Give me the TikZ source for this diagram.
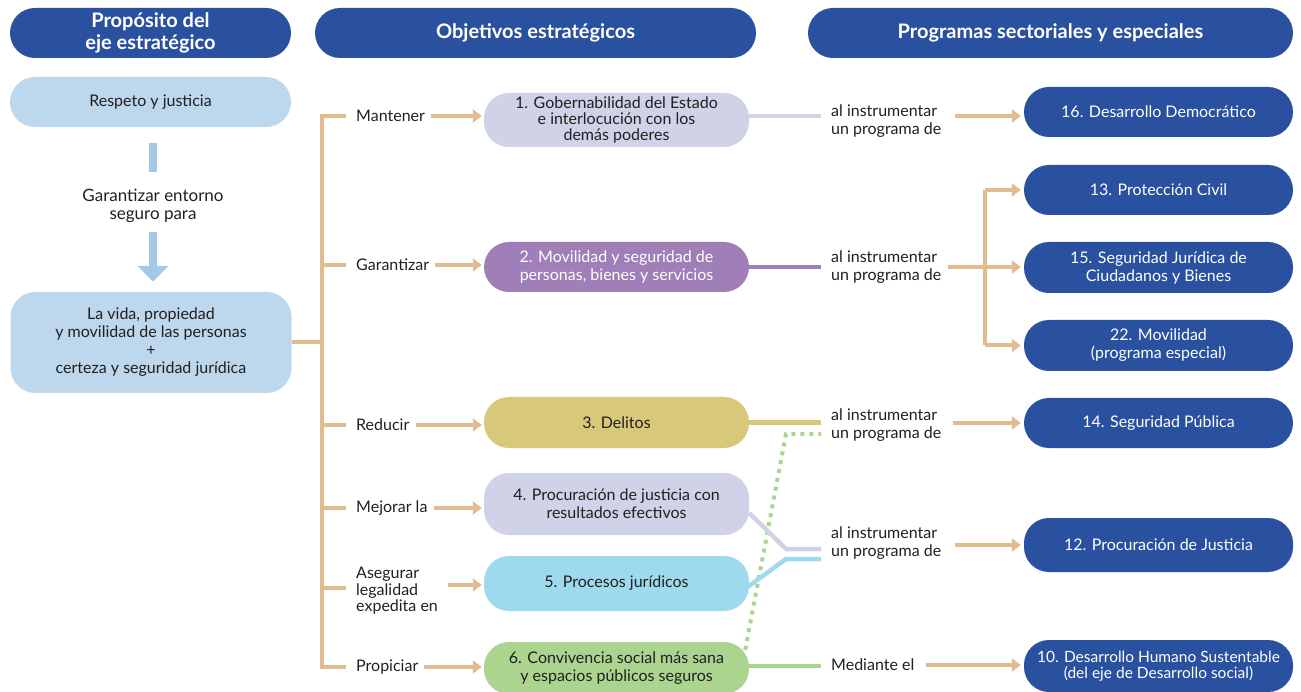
\documentclass[tikz,border=0pt]{standalone}
\usepackage{fontspec}
\setmainfont{Lato}
\usetikzlibrary{arrows.meta,calc}
\definecolor{dblue}{RGB}{42,80,160}
\definecolor{lblue}{RGB}{189,215,236}
\definecolor{barblue}{RGB}{165,200,232}
\definecolor{tanc}{RGB}{226,188,145}
\definecolor{lav}{RGB}{208,210,232}
\definecolor{purp}{RGB}{160,127,184}
\definecolor{khaki}{RGB}{216,201,122}
\definecolor{cyanc}{RGB}{158,218,238}
\definecolor{greenc}{RGB}{171,212,143}
\definecolor{txt}{RGB}{35,31,32}
\begin{document}
\begin{tikzpicture}[x=1pt,y=-1pt,
  every node/.style={text=txt},
  body/.style={font=\fontsize{16}{18}\selectfont},
  hdr/.style={fill=dblue, text=white, rounded corners=25pt, minimum height=50pt, inner sep=0pt, align=center, font=\bfseries\fontsize{20}{22}\selectfont},
  lbox/.style={fill=lblue, rounded corners=25pt, minimum width=281pt, inner sep=0pt, align=center, body},
  obox/.style={rounded corners=25pt, minimum width=265pt, inner sep=0pt, align=center, body},
  rbox/.style={fill=dblue, text=white, rounded corners=25pt, minimum width=269pt, inner sep=0pt, align=center, body},
  lab/.style={anchor=west, align=left, inner sep=0pt, body},
  tanline/.style={draw=tanc, line width=4pt},
  tanarrow/.style={tanline, -{Triangle[length=9pt,width=13pt]}},
  conn/.style={line width=4.5pt},
]
\useasboundingbox (0,0) rectangle (1301,692);
% headers
\node[hdr, minimum width=281pt] (h1) at (150.5,33) {Propósito del\\eje estratégico};
\node[hdr, minimum width=441pt] (h2) at (535.5,33) {Objetivos estratégicos};
\node[hdr, minimum width=485pt] (h3) at (1050.5,33) {Programas sectoriales y especiales};
% left column
\node[lbox, minimum height=50pt] (resp) at (150.5,102) {Respeto y justicia};
\node[body, align=center, font=\fontsize{17}{18}\selectfont] (gar) at (153,206) {Garantizar entorno\\seguro para};
\node[lbox, minimum height=101pt] (vida) at (151,342.5) {La vida, propiedad\\y movilidad de las personas\\+\\certeza y seguridad jurídica};
\draw[draw=barblue, line width=8pt] ([yshift=-16pt]resp.south -| gar.north) -- ([yshift=14pt]gar.north);
\draw[draw=barblue, line width=8pt, -{Triangle[length=16pt,width=30pt]}] ([yshift=-6pt]gar.south) -- ([yshift=10pt]vida.north -| gar.south);
% objective labels
\node[lab] (l1) at (356,116) {Mantener};
\node[lab] (l2) at (356,265) {Garantizar};
\node[lab] (l3) at (356,425) {Reducir};
\node[lab] (l4) at (356,508) {Mejorar la};
\node[lab, font=\fontsize{16}{16.5}\selectfont] (l5) at (356,591) {Asegurar\\legalidad\\expedita en};
\node[lab] (l6) at (356,667) {Propiciar};
% objectives
\node[obox, fill=lav, minimum height=54pt, font=\fontsize{16}{16}\selectfont] (o1) at (616.5,120) {1. Gobernabilidad del Estado\\e interlocución con los\\demás poderes};
\node[obox, fill=purp, text=white, minimum height=50pt] (o2) at (616.5,267) {2. Movilidad y seguridad de\\personas, bienes y servicios};
\node[obox, fill=khaki, minimum height=51pt] (o3) at (616.5,422.5) {3. Delitos};
\node[obox, fill=lav, minimum height=62pt] (o4) at (616.5,504) {4. Procuración de justicia con\\resultados efectivos};
\node[obox, fill=cyanc, minimum height=55pt] (o5) at (616.5,583.5) {5. Procesos jurídicos};
\node[obox, fill=greenc, minimum height=52pt] (o6) at (616.5,668) {6. Convivencia social más sana\\y espacios públicos seguros};
% bracket left
\coordinate (bx) at (322,0);
\draw[tanline] (vida.east) -- (vida.east -| bx);
\draw[tanline, line cap=rect] (bx |- l1) -- (bx |- l6);
\foreach \l in {l1,l2,l3,l4,l6} {\draw[tanline] (bx |- \l) -- ([xshift=-10pt]\l.west);}
\draw[tanline] (bx |- 0,588) -- ([xshift=-10pt]l5.west |- 0,588);
% arrows to objectives
\draw[tanarrow] ([xshift=6pt]l1.east) -- ([xshift=-2pt]l1.east -| o1.west);
\draw[tanarrow] ([xshift=6pt]l2.east) -- ([xshift=-2pt]l2.east -| o2.west);
\draw[tanarrow] ([xshift=6pt]l3.east) -- ([xshift=-2pt]l3.east -| o3.west);
\draw[tanarrow] ([xshift=6pt]l4.east) -- ([xshift=-2pt]l4.east -| o4.west);
\draw[tanarrow] ([xshift=10pt]l5.east |- 0,585) -- ([xshift=-2pt]o5.west |- 0,585);
\draw[tanarrow] ([xshift=6pt]l6.east) -- ([xshift=-2pt]l6.east -| o6.west);
% middle labels
\node[lab] (m1) at (831,121) {al instrumentar\\un programa de};
\node[lab] (m2) at (831,267) {al instrumentar\\un programa de};
\node[lab] (m3) at (831,425) {al instrumentar\\un programa de};
\node[lab] (m4) at (831,543) {al instrumentar\\un programa de};
\node[lab] (m5) at (831,665) {Mediante el};
% programs
\node[rbox, minimum height=50pt] (p16) at (1158.5,112) {16. Desarrollo Democrático};
\node[rbox, minimum height=50pt] (p13) at (1158.5,190) {13. Protección Civil};
\node[rbox, minimum height=51pt] (p15) at (1158.5,267.5) {15. Seguridad Jurídica de\\Ciudadanos y Bienes};
\node[rbox, minimum height=51pt] (p22) at (1158.5,345.5) {22. Movilidad\\(programa especial)};
\node[rbox, minimum height=50pt] (p14) at (1158.5,423) {14. Seguridad Pública};
\node[rbox, minimum height=54pt] (p12) at (1158.5,545) {12. Procuración de Justicia};
\node[rbox, minimum height=52pt, font=\fontsize{15.5}{16}\selectfont] (p10) at (1158.5,666) {10. Desarrollo Humano Sustentable\\(del eje de Desarrollo social)};
% connectors objectives -> middle
\coordinate (mx) at (821,0);
\draw[conn, draw=lav] ([yshift=4pt]o1.east) -- ([yshift=4pt]o1.east -| mx);
\draw[conn, draw=purp] (o2.east) -- (o2.east -| mx);
\draw[conn, draw=khaki] (o3.east) -- (o3.east -| mx);
\draw[line width=4pt, draw=greenc, dash pattern=on 4pt off 5pt] ($(o6.north east)+(-4,8)$) -- (786,434) -- (mx |- 0,434);
\draw[conn, draw=lav] ($(o4.east)+(0,9)$) -- (786,549) -- (mx |- 0,549);
\draw[conn, draw=cyanc] ($(o5.east)+(-1,3)$) -- (786,559) -- (mx |- 0,559);
\draw[conn, draw=greenc] ($(o6.east)+(0,-2)$) -- (mx |- 0,666);
% arrows middle -> programs
\draw[tanarrow] ([xshift=14pt]m1.east |- 0,116) -- ([xshift=-3pt]p16.west |- 0,116);
\coordinate (b2) at (985,267);
\draw[tanline] ([xshift=7pt]m2.east |- b2) -- (b2);
\draw[tanline] (b2 |- p13) -- (b2 |- p22);
\draw[tanarrow] (b2 |- p13) -- ([xshift=-3pt]p13.west);
\draw[tanarrow] (b2) -- ([xshift=-3pt]p15.west |- b2);
\draw[tanarrow] (b2 |- p22) -- ([xshift=-3pt]p22.west);
\draw[tanarrow] ([xshift=12pt]m3.east |- p14) -- ([xshift=-3pt]p14.west);
\draw[tanarrow] ([xshift=14pt]m4.east |- p12) -- ([xshift=-3pt]p12.west);
\draw[tanarrow] ([xshift=12pt]m5.east) -- ([xshift=-3pt]m5.east -| p10.west);
\end{tikzpicture}
\end{document}
